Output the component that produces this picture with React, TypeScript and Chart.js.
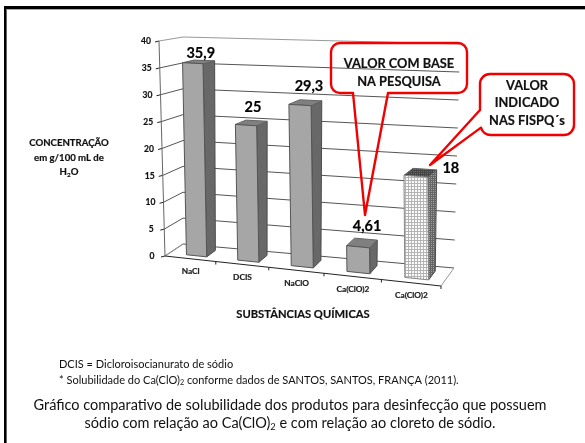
import React, { useEffect, useRef } from "react";
import { Chart, registerables } from "chart.js";

Chart.register(...registerables);

const categories = ["NaCl", "DCIS", "NaClO", "Ca(ClO)2", "Ca(ClO)2"];
const solubility = [35.9, 25, 29.3, 4.61, 18];
const valueLabels = ["35,9", "25", "29,3", "4,61", "18"];
const labelOffsets: [number, number][] = [[8, -11], [7, -19], [9, -20], [9, -21], [35, -9]];
const barColors = ["#a6a6a6", "#a6a6a6", "#a6a6a6", "#a6a6a6", "#f4f4f4"];
const FONT = "Lato";

type P = [number, number];
const FLB: P = [165, 256], FRB: P = [441, 286], BLB: P = [183, 244], BRB: P = [454, 268];
const FLT: P = [159, 41], FRT: P = [437, 55], BLT: P = [183, 37], BRT: P = [460, 44];
const lerp = (a: P, b: P, t: number): P => [a[0] + (b[0] - a[0]) * t, a[1] + (b[1] - a[1]) * t];
const warp = (u: number) => u - 0.1 * u * (1 - u);
const project = (u: number, v: number, d: number): P => {
  const w = warp(u);
  const f = lerp(lerp(FLB, FRB, w), lerp(FLT, FRT, w), v);
  const b = lerp(lerp(BLB, BRB, w), lerp(BLT, BRT, w), v);
  return lerp(f, b, d);
};

function line(ctx: CanvasRenderingContext2D, a: P, b: P, color: string, width = 1) {
  ctx.strokeStyle = color;
  ctx.lineWidth = width;
  ctx.beginPath();
  ctx.moveTo(a[0], a[1]);
  ctx.lineTo(b[0], b[1]);
  ctx.stroke();
}
function quad(ctx: CanvasRenderingContext2D, pts: P[], fill: string | CanvasPattern, stroke: string) {
  ctx.beginPath();
  pts.forEach((p, i) => (i ? ctx.lineTo(p[0], p[1]) : ctx.moveTo(p[0], p[1])));
  ctx.closePath();
  ctx.fillStyle = fill;
  ctx.fill();
  ctx.strokeStyle = stroke;
  ctx.lineWidth = 1;
  ctx.stroke();
}
function gridPattern(ctx: CanvasRenderingContext2D, bg: string, fg: string, cell: number) {
  const c = document.createElement("canvas");
  c.width = cell;
  c.height = cell;
  const g = c.getContext("2d")!;
  g.fillStyle = bg;
  g.fillRect(0, 0, cell, cell);
  g.fillStyle = fg;
  g.fillRect(0, 0, cell, 1);
  g.fillRect(0, 0, 1, cell);
  return ctx.createPattern(c, "repeat")!;
}
type Run = { t: string; sub?: boolean };
function runs(ctx: CanvasRenderingContext2D, parts: Run[], x: number, y: number, size: number, weight: string, align: "left" | "center", color = "#000") {
  ctx.textBaseline = "middle";
  ctx.textAlign = "left";
  ctx.fillStyle = color;
  ctx.strokeStyle = color;
  ctx.lineWidth = 0.2;
  ctx.lineJoin = "round";
  const fontOf = (r: Run) => `${weight} ${r.sub ? size * 0.65 : size}px ${FONT}`;
  let total = 0;
  parts.forEach((r) => {
    ctx.font = fontOf(r);
    total += ctx.measureText(r.t).width;
  });
  let cx = align === "center" ? x - total / 2 : x;
  parts.forEach((r) => {
    ctx.font = fontOf(r);
    const ty = r.sub ? y + size * 0.28 : y;
    ctx.fillText(r.t, cx, ty);
    if (weight === "bold") ctx.strokeText(r.t, cx, ty);
    cx += ctx.measureText(r.t).width;
  });
}
function callout(ctx: CanvasRenderingContext2D, x0: number, y0: number, x1: number, y1: number, r: number, path: (c: CanvasRenderingContext2D) => void) {
  ctx.strokeStyle = "#f00000";
  ctx.lineWidth = 2.4;
  ctx.lineJoin = "round";
  ctx.beginPath();
  ctx.moveTo(x0 + r, y0);
  ctx.lineTo(x1 - r, y0);
  ctx.arcTo(x1, y0, x1, y0 + r, r);
  ctx.lineTo(x1, y1 - r);
  ctx.arcTo(x1, y1, x1 - r, y1, r);
  path(ctx);
  ctx.stroke();
}

const scene = {
  id: "scene3d",
  beforeDatasetsDraw(chart: any) {
    const ctx: CanvasRenderingContext2D = chart.ctx;
    const { x, y } = chart.scales;
    const area = chart.chartArea;
    const U = (px: number) => (px - area.left) / (area.right - area.left);
    const V = (py: number) => (area.bottom - py) / (area.bottom - area.top);
    ctx.save();
    ctx.fillStyle = "#fff";
    ctx.fillRect(0, 0, 585, 443);
    ctx.fillStyle = "#000";
    ctx.fillRect(4, 6, 581, 3);
    ctx.fillRect(4, 6, 2.6, 437);
    ctx.fillStyle = "#aaa";
    ctx.fillRect(6.6, 9, 578.4, 1);

    // walls and ticks
    y.ticks.forEach((t: any) => {
      const v = V(y.getPixelForValue(t.value));
      const a = project(0, v, 0), b = project(0, v, 1), c = project(1, v, 1);
      const col = t.value === 40 ? "#999" : "#555";
      line(ctx, a, b, col);
      line(ctx, b, c, col);
      line(ctx, [a[0] - 4, a[1] + 1], a, "#222");
      runs(ctx, [{ t: String(t.value) }], a[0] - 13, a[1] + 0.5, 8.5, "bold", "center", "#111");
    });
    line(ctx, project(0, 0, 0), project(0, 1, 0), "#666");
    line(ctx, project(0, 0, 0), project(0, 0, 1), "#999");
    line(ctx, project(1, 0, 0), project(1, 0, 1), "#999");
    line(ctx, project(0, 0, 0), project(1, 0, 0), "#222");
    categories.forEach((_, i) => {
      const c = x.getPixelForValue(i), half = (x.getPixelForValue(1) - x.getPixelForValue(0)) / 2;
      const p = project(U(c + half), 0, 0);
      line(ctx, p, [p[0], p[1] + 3], "#222");
      const q = project(U(c), 0, 0);
      runs(ctx, [{ t: categories[i] }], q[0] + 0.5, q[1] + 13, 8.3, "bold", "center", "#222");
    });

    // bars
    const meta = chart.getDatasetMeta(0);
    const hatchFront = gridPattern(ctx, "#fbfbfb", "#b4b4b4", 3);
    const hatchTop = gridPattern(ctx, "#6c6c6c", "#444", 2);
    const hatchSide = gridPattern(ctx, "#a0a0a0", "#666", 2);
    meta.data.forEach((el: any, i: number) => {
      const u0 = U(el.x - el.width / 2) + 0.008, u1 = U(el.x + el.width / 2) + 0.008;
      const v0 = V(el.base), v1 = V(el.y);
      const d0 = 0.25, d1 = 0.75;
      const hatched = i === 4;
      quad(ctx, [project(u1, v0, d0), project(u1, v0, d1), project(u1, v1, d1), project(u1, v1, d0)], hatched ? hatchSide : "#686868", "#4c4c4c");
      quad(ctx, [project(u0, v1, d0), project(u1, v1, d0), project(u1, v1, d1), project(u0, v1, d1)], hatched ? hatchTop : "#808080", "#666");
      quad(ctx, [project(u0, v0, d0), project(u1, v0, d0), project(u1, v1, d0), project(u0, v1, d0)], hatched ? hatchFront : chart.data.datasets[0].backgroundColor[i], hatched ? "#888" : "#555");
      const top = project((u0 + u1) / 2, v1, d0);
      const off = labelOffsets[i];
      runs(ctx, [{ t: valueLabels[i] }], top[0] + off[0], top[1] + off[1] + 1, 14.5, "bold", "center");
    });

    // callouts
    callout(ctx, 331, 43, 467, 93, 9, (c) => {
      c.lineTo(388, 93);
      c.lineTo(365, 215);
      c.lineTo(353, 93);
      c.lineTo(331 + 9, 93);
      c.arcTo(331, 93, 331, 84, 9);
      c.lineTo(331, 52);
      c.arcTo(331, 43, 340, 43, 9);
    });
    callout(ctx, 480, 74, 574, 135, 10, (c) => {
      c.lineTo(490, 135);
      c.arcTo(483, 135, 480, 124, 10);
      c.lineTo(430, 165);
      c.lineTo(480, 110);
      c.lineTo(480, 84);
      c.arcTo(480, 74, 490, 74, 10);
    });
    const bold = (t: string, px: number, py: number, size: number) => runs(ctx, [{ t }], px, py, size, "bold", "center", "#111");
    bold("VALOR COM BASE", 399, 63.5, 12.8);
    bold("NA PESQUISA", 399, 81.5, 12.8);
    bold("VALOR", 527, 86, 12.8);
    bold("INDICADO", 527, 103, 12.8);
    bold("NAS FISPQ´s", 527, 121, 12.8);

    bold("CONCENTRAÇÃO", 69, 143, 9.6);
    bold("em g/100 mL de", 69, 158, 9.6);
    runs(ctx, [{ t: "H" }, { t: "2", sub: true }, { t: "O" }], 69, 172, 9.6, "bold", "center", "#111");
    bold("SUBSTÂNCIAS QUÍMICAS", 303, 314, 11.2);

    runs(ctx, [{ t: "DCIS = Dicloroisocianurato de sódio" }], 59, 364, 11, "normal", "left", "#111");
    runs(ctx, [{ t: "* Solubilidade do Ca(ClO)" }, { t: "2", sub: true }, { t: " conforme dados de SANTOS, SANTOS, FRANÇA (2011)." }], 59, 380, 11, "normal", "left", "#111");
    runs(ctx, [{ t: "Gráfico comparativo de solubilidade dos produtos para desinfecção que possuem" }], 290, 405, 14.5, "normal", "center", "#111");
    runs(ctx, [{ t: "sódio com relação ao Ca(ClO)" }, { t: "2", sub: true }, { t: " e com relação ao cloreto de sódio." }], 290, 423, 14.5, "normal", "center", "#111");
    ctx.restore();
    return false;
  },
};

export default function App() {
  const ref = useRef<HTMLCanvasElement>(null);
  useEffect(() => {
    document.body.style.margin = "0";
    const chart = new Chart(ref.current!, {
      type: "bar",
      data: {
        labels: categories,
        datasets: [{ data: solubility, backgroundColor: barColors, barPercentage: 0.4, categoryPercentage: 1 }],
      },
      options: {
        animation: false,
        responsive: false,
        events: [],
        layout: { padding: 20 },
        plugins: { legend: { display: false }, tooltip: { enabled: false } },
        scales: {
          x: { display: false },
          y: { display: false, min: 0, max: 40, ticks: { stepSize: 5 } },
        },
      },
      plugins: [scene],
    } as any);
    return () => chart.destroy();
  }, []);
  return <canvas ref={ref} width={585} height={443} style={{ display: "block", width: 585, height: 443 }} />;
}
